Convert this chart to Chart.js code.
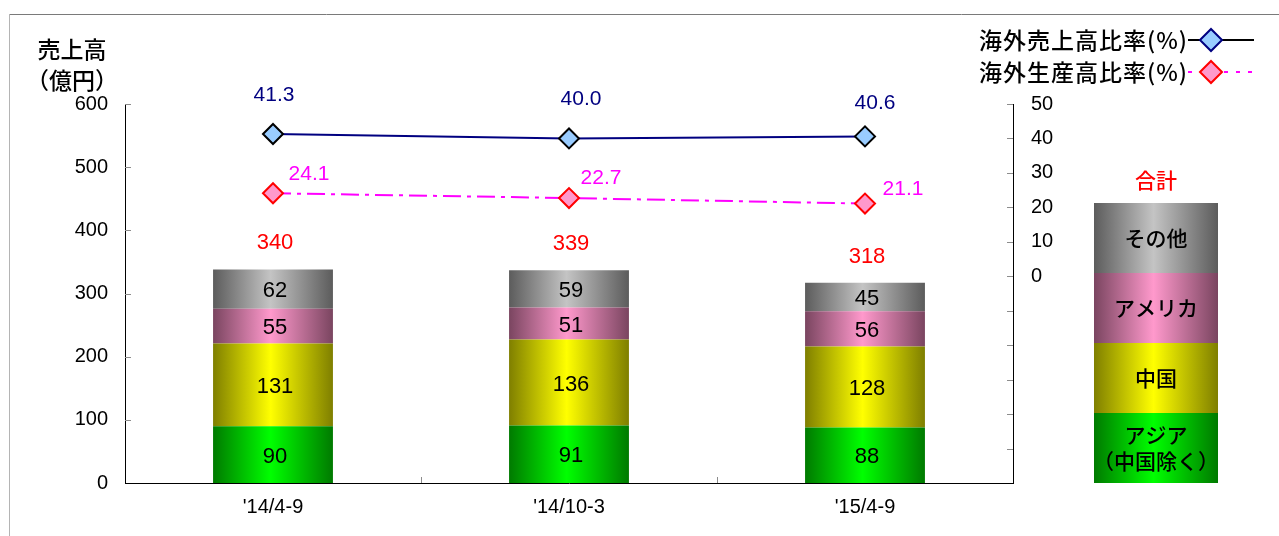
<!DOCTYPE html>
<html>
<head>
<meta charset="utf-8">
<script src="https://cdn.jsdelivr.net/npm/chart.js@4/dist/chart.umd.min.js"></script>
<style>
  html, body { margin: 0; padding: 0; background: #ffffff; overflow: hidden; }
  #wrap { position: relative; width: 1279px; height: 536px; }
</style>
</head>
<body>
<div id="wrap"><canvas id="c" width="1279" height="536"></canvas></div>
<script>
// ---- data ----
const periods = ["'14/4-9", "'14/10-3", "'15/4-9"];
const regionNames = ["アジア", "中国", "アメリカ", "その他"];
const asiaExChina = [90, 91, 88];
const china = [131, 136, 128];
const america = [55, 51, 56];
const others = [62, 59, 45];
const totals = [340, 339, 318];
const overseasSalesRatio = [41.3, 40.0, 40.6];
const overseasProductionRatio = [24.1, 22.7, 21.1];

// ---- styling ----
const NUM_FONT = '"Liberation Sans", Arial, sans-serif';
const JP_FONT = '"Noto Sans CJK JP", "Noto Sans", sans-serif';
const BAR_PCT = 0.405;
// [edge, centre] colours for the cylinder-like shading of each region
const shades = {
  asia:    ['#007a00', '#00ff00'],
  china:   ['#7f7f00', '#ffff00'],
  america: ['#7a4560', '#ff99cc'],
  others:  ['#5c5c5c', '#c4c4c4']
};
// label nudges (px) for the ratio values
const salesLabelShift = [[1, -39], [12, -39], [10, -33]];
const prodLabelShift = [[36, -19], [32, -20], [38, -14]];

function sideGradient(c2d, x0, x1, pair) {
  const g = c2d.createLinearGradient(x0, 0, x1, 0);
  g.addColorStop(0, pair[0]);
  g.addColorStop(0.48, pair[1]);
  g.addColorStop(1, pair[0]);
  return g;
}

function barFill(pair) {
  return (ctx) => {
    const chart = ctx.chart;
    const xs = chart.scales && chart.scales.x;
    if (ctx.type !== 'data' || !xs || !chart.chartArea) return pair[1];
    const cx = xs.getPixelForValue(ctx.dataIndex);
    const half = xs.width / periods.length * BAR_PCT / 2;
    return sideGradient(chart.ctx, cx - half, cx + half, pair);
  };
}

// white page with the thin frame lines
const framePlugin = {
  id: 'frame',
  beforeDraw(chart) {
    const c = chart.ctx;
    c.save();
    c.fillStyle = '#ffffff';
    c.fillRect(0, 0, chart.width, chart.height);
    c.strokeStyle = '#7a7a7a';
    c.lineWidth = 1;
    c.beginPath();
    c.moveTo(9, 14.5); c.lineTo(chart.width, 14.5);
    c.stroke();
    c.strokeStyle = '#b4b4b4';
    c.beginPath();
    c.moveTo(9.5, 14); c.lineTo(9.5, chart.height);
    c.stroke();
    c.restore();
  }
};

// short tick marks pointing into the plot area
const innerTicksPlugin = {
  id: 'innerTicks',
  afterDraw(chart) {
    const c = chart.ctx;
    const a = chart.chartArea;
    const y = chart.scales.y, y1 = chart.scales.y1, x = chart.scales.x;
    c.save();
    c.strokeStyle = '#8c8c8c';
    c.lineWidth = 1;
    c.beginPath();
    y.ticks.forEach(t => {
      const py = Math.round(y.getPixelForValue(t.value)) + 0.5;
      if (t.value === 0) return;
      c.moveTo(a.left, py); c.lineTo(a.left + 6, py);
    });
    y1.ticks.forEach(t => {
      const py = Math.round(y1.getPixelForValue(t.value)) + 0.5;
      if (t.value === y1.min) return;
      c.moveTo(a.right - 6, py); c.lineTo(a.right, py);
    });
    for (let i = 1; i < periods.length; i++) {
      const px = Math.round((x.getPixelForValue(i - 1) + x.getPixelForValue(i)) / 2) + 0.5;
      c.moveTo(px, a.bottom); c.lineTo(px, a.bottom - 6);
    }
    c.stroke();
    c.restore();
  }
};

// value labels for bars, totals and ratio lines
const valueLabelsPlugin = {
  id: 'valueLabels',
  afterDatasetsDraw(chart) {
    const c = chart.ctx;
    c.save();
    c.textAlign = 'center';
    c.textBaseline = 'middle';
    chart.data.datasets.forEach((ds, di) => {
      const meta = chart.getDatasetMeta(di);
      if (ds.type === 'bar') {
        c.font = '22px ' + NUM_FONT;
        c.fillStyle = '#000000';
        meta.data.forEach((el, i) => {
          c.fillText(String(ds.data[i]), el.x + 2, (el.y + el.base) / 2 + 2);
        });
      } else {
        const shifts = ds.label.indexOf('売上') >= 0 ? salesLabelShift : prodLabelShift;
        c.font = '21px ' + NUM_FONT;
        c.fillStyle = ds.labelColor;
        meta.data.forEach((el, i) => {
          c.fillText(ds.data[i].toFixed(1), el.x + shifts[i][0], el.y + shifts[i][1]);
        });
      }
    });
    // totals above each stack
    const ys = chart.scales.y, xs = chart.scales.x;
    c.font = '22px ' + NUM_FONT;
    c.fillStyle = '#ff0000';
    totals.forEach((t, i) => {
      c.fillText(String(t), xs.getPixelForValue(i) + 2, ys.getPixelForValue(t) - 25);
    });
    c.restore();
  }
};

function drawDiamond(c, x, y, r, fill, stroke) {
  c.beginPath();
  c.moveTo(x - r, y); c.lineTo(x, y - r); c.lineTo(x + r, y); c.lineTo(x, y + r);
  c.closePath();
  c.fillStyle = fill; c.fill();
  c.lineWidth = 2; c.strokeStyle = stroke; c.stroke();
}

// axis title, line legend (top right) and region key (right)
const decorPlugin = {
  id: 'decor',
  afterDraw(chart) {
    const c = chart.ctx;
    c.save();
    c.fillStyle = '#000000';
    c.textAlign = 'center';
    c.textBaseline = 'middle';
    c.font = '500 23px ' + JP_FONT;
    c.fillText('売上高', 72, 49);
    c.fillText('（億円）', 72, 80);

    // line legend
    const lineSets = chart.data.datasets.filter(d => d.type === 'line');
    const rows = [40, 72];
    lineSets.forEach((ds, k) => {
      const yy = rows[k];
      c.font = '500 23px ' + JP_FONT;
      c.letterSpacing = '1px';
      c.textAlign = 'right';
      c.fillStyle = '#000000';
      c.fillText(ds.label, 1188, yy);
      c.letterSpacing = '0px';
      c.beginPath();
      c.setLineDash(ds.legendDash);
      c.strokeStyle = ds.legendLine;
      c.lineWidth = 2;
      c.moveTo(1188, yy); c.lineTo(1254, yy);
      c.stroke();
      c.setLineDash([]);
      drawDiamond(c, 1211, yy, 11, ds.pointBackgroundColor, ds.legendMarkerEdge);
    });

    // region key drawn as a stacked column
    const left = 1094, right = 1218, top = 203, bottom = 483;
    const bars = chart.data.datasets.filter(d => d.type === 'bar');
    const segH = (bottom - top) / bars.length;
    const keyText = {
      'アジア': ['アジア', '（中国除く）'],
      '中国': ['中国'],
      'アメリカ': ['アメリカ'],
      'その他': ['その他']
    };
    bars.forEach((ds, k) => {
      const y0 = bottom - segH * (k + 1);
      c.fillStyle = sideGradient(c, left, right, ds.shade);
      c.fillRect(left, y0, right - left, segH);
      const lines = keyText[ds.label];
      c.fillStyle = '#000000';
      c.textAlign = 'center';
      c.font = '500 21px ' + JP_FONT;
      const mid = y0 + segH / 2;
      lines.forEach((t, j) => {
        c.fillText(t, (left + right) / 2, mid + (j - (lines.length - 1) / 2) * 26);
      });
    });
    c.fillStyle = '#ff0000';
    c.font = '500 21px ' + JP_FONT;
    c.fillText('合計', (left + right) / 2, 180);
    c.restore();
  }
};

const barSet = (label, data, shade) => ({
  type: 'bar', label, data, shade,
  backgroundColor: barFill(shade),
  borderWidth: 0,
  stack: 'sales',
  yAxisID: 'y',
  order: 2,
  categoryPercentage: 1,
  barPercentage: BAR_PCT
});

new Chart(document.getElementById('c'), {
  data: {
    labels: periods,
    datasets: [
      barSet(regionNames[0], asiaExChina, shades.asia),
      barSet(regionNames[1], china, shades.china),
      barSet(regionNames[2], america, shades.america),
      barSet(regionNames[3], others, shades.others),
      {
        type: 'line', label: '海外売上高比率(%)', data: overseasSalesRatio,
        yAxisID: 'y1', order: 1,
        borderColor: '#000080', borderWidth: 2,
        pointStyle: 'rectRot', pointRadius: 10,
        pointBackgroundColor: '#99ccff', pointBorderColor: '#000000', pointBorderWidth: 2,
        labelColor: '#000080', legendLine: '#000000', legendDash: [], legendMarkerEdge: '#000080',
        tension: 0
      },
      {
        type: 'line', label: '海外生産高比率(%)', data: overseasProductionRatio,
        yAxisID: 'y1', order: 0,
        borderColor: '#ff00ff', borderWidth: 2, borderDash: [18, 6, 4, 6],
        pointStyle: 'rectRot', pointRadius: 10,
        pointBackgroundColor: '#ff99cc', pointBorderColor: '#ff0000', pointBorderWidth: 2,
        labelColor: '#ff00ff', legendLine: '#ff00ff', legendDash: [4, 8], legendMarkerEdge: '#ff0000',
        tension: 0
      }
    ]
  },
  options: {
    responsive: false,
    animation: false,
    events: [],
    layout: { padding: { top: 104, left: 0, right: 0, bottom: 0 } },
    plugins: { legend: { display: false }, tooltip: { enabled: false } },
    scales: {
      x: {
        grid: { display: false, drawTicks: false },
        border: { display: true, color: '#000000', width: 1 },
        ticks: { color: '#000000', font: { family: NUM_FONT, size: 20 }, padding: 12 },
        afterFit: (s) => { s.height = 53; }
      },
      y: {
        position: 'left', stacked: true,
        min: 0, max: 600,
        grid: { display: false, drawTicks: false },
        border: { display: true, color: '#000000', width: 1 },
        ticks: { stepSize: 100, color: '#000000', font: { family: NUM_FONT, size: 20 }, padding: 17 },
        afterFit: (s) => { s.width = 125; }
      },
      y1: {
        position: 'right',
        min: -60, max: 50,
        grid: { display: false, drawTicks: false },
        border: { display: true, color: '#000000', width: 1 },
        ticks: {
          stepSize: 10, color: '#000000', font: { family: NUM_FONT, size: 20 }, padding: 18,
          callback: (v) => (v >= 0 ? String(v) : '')
        },
        afterFit: (s) => { s.width = 266; }
      }
    }
  },
  plugins: [framePlugin, innerTicksPlugin, valueLabelsPlugin, decorPlugin]
});
</script>
</body>
</html>
